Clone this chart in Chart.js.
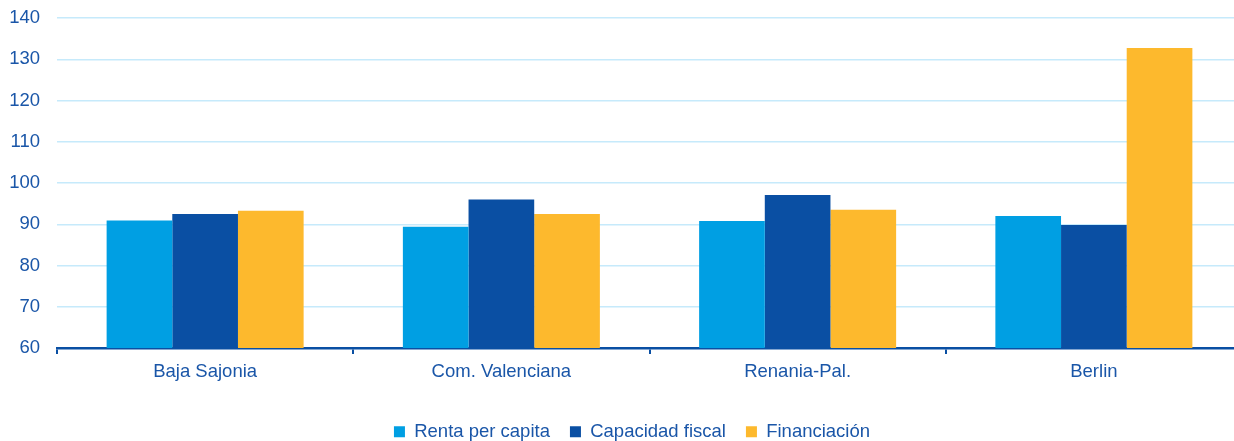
<!DOCTYPE html>
<html>
<head>
<meta charset="utf-8">
<script src="https://cdn.jsdelivr.net/npm/chart.js@4.4.1/dist/chart.umd.min.js"></script>
<style>
  html, body { margin: 0; padding: 0; background: #fff; overflow: hidden; }
  #wrap { width: 1234px; height: 441px; overflow: hidden; }
  #wrap div { width: 1244px; height: 451px; }
</style>
</head>
<body>
<div id="wrap"><div><canvas id="chart"></canvas></div></div>
<script>
// chart data
const categories = ["Baja Sajonia", "Com. Valenciana", "Renania-Pal.", "Berlin"];
const seriesNames = ["Renta per capita", "Capacidad fiscal", "Financiación"];
const rentaPerCapita = [90.9, 89.4, 90.8, 92.0];
const capacidadFiscal = [92.5, 96.0, 97.1, 89.8];
const financiacion = [93.3, 92.5, 93.5, 132.7];
const yTicks = [60, 70, 80, 90, 100, 110, 120, 130, 140];

const TEXT_BLUE = "#1a56a8";
const DARK_BLUE = "#0a4fa3";

Chart.defaults.font.family = "'Liberation Sans', Arial, sans-serif";
Chart.defaults.font.size = 18.5;
Chart.defaults.color = TEXT_BLUE;

// nudge the legend so it centres a bit right of the canvas middle, as in the original
const legendShift = {
  id: "legendShift",
  afterLayout(chart) {
    chart.legend.left = 22;
  }
};

const ctx = document.getElementById("chart").getContext("2d");
new Chart(ctx, {
  type: "bar",
  data: {
    labels: categories,
    datasets: [
      { label: seriesNames[0], data: rentaPerCapita, backgroundColor: "#009fe3", borderWidth: 0 },
      { label: seriesNames[1], data: capacidadFiscal, backgroundColor: DARK_BLUE, borderWidth: 0 },
      { label: seriesNames[2], data: financiacion, backgroundColor: "#fdb92d", borderWidth: 0 }
    ]
  },
  plugins: [legendShift],
  options: {
    responsive: true,
    maintainAspectRatio: false,
    animation: false,
    datasets: {
      bar: { barPercentage: 1, categoryPercentage: 0.665 }
    },
    layout: { padding: { top: 18, left: 0, right: 2, bottom: 0 } },
    plugins: {
      tooltip: { enabled: false },
      legend: {
        position: "bottom",
        labels: {
          boxWidth: 11,
          boxHeight: 11,
          padding: 20,
          color: TEXT_BLUE
        }
      }
    },
    scales: {
      x: {
        offset: true,
        grid: {
          display: true,
          drawOnChartArea: false,
          drawTicks: true,
          tickLength: 6,
          color: DARK_BLUE,
          lineWidth: 2
        },
        border: { display: true, color: DARK_BLUE, width: 2.5 },
        ticks: { padding: 7, color: TEXT_BLUE },
        afterFit: scale => { scale.height = 54.5; }
      },
      y: {
        min: yTicks[0],
        max: yTicks[yTicks.length - 1],
        afterBuildTicks: scale => { scale.ticks = yTicks.map(v => ({ value: v })); },
        grid: { color: "#c6eafb", lineWidth: 1.5, drawTicks: false },
        border: { display: false },
        ticks: { padding: 17, color: TEXT_BLUE },
        afterFit: scale => {
          scale.width = 57;
          scale.paddingTop = 0;
          scale.paddingBottom = 0;
        }
      }
    }
  }
});
</script>
</body>
</html>
